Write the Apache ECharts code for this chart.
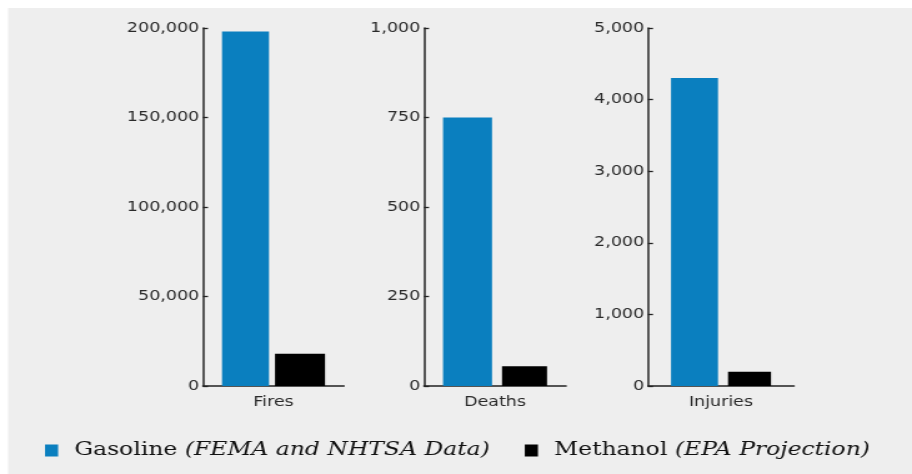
<!DOCTYPE html>
<html>
<head>
<meta charset="utf-8">
<script src="https://cdn.jsdelivr.net/npm/echarts@6/dist/echarts.min.js"></script>
<style>
  html, body { margin: 0; padding: 0; background: #ffffff; overflow: hidden; }
  #wrap { width: 912px; height: 474px; overflow: hidden; position: relative; }
  /* the chart is drawn narrow and widened, giving the stretched lettering */
  #chart { width: 730px; height: 474px; transform: scaleX(1.249315); transform-origin: 0 0; }
</style>
</head>
<body>
<div id="wrap"><div id="chart"></div></div>
<script>
// ---- data ----
const panels = ['Fires', 'Deaths', 'Injuries'];
const gasoline = [198000, 750, 4300];
const methanol = [18000, 55, 200];
const axisMax = [200000, 1000, 5000];
const axisStep = [50000, 250, 1000];
const seriesNames = ['Gasoline', 'Methanol'];
const sourceNotes = ['(FEMA and NHTSA Data)', '(EPA Projection)'];

// ---- layout (page pixels, converted to the narrow drawing space) ----
const SX = 912 / 730;
const px = v => v / SX;
const W = 730;
const gridLeft = [203, 424, 648];
const gridWidth = [141, 142, 146];
const blueW = [47, 49, 47];
const blackW = [50, 45, 43];
const barGapPx = [6, 10, 10];

const BLUE = '#0a7fbf';
const BLACK = '#000000';
const AXIS = '#222222';
const TEXT = '#2a2a2a';

const grids = [], xAxes = [], yAxes = [], series = [];
panels.forEach((p, i) => {
  const left = px(gridLeft[i]);
  const width = px(gridWidth[i]);
  grids.push({ left: left, width: width, top: 28, bottom: 88, containLabel: false });
  xAxes.push({
    type: 'category', gridIndex: i, data: [p],
    axisLine: { lineStyle: { color: AXIS, width: 1.6 } },
    axisTick: { show: false },
    axisLabel: { margin: 9, fontFamily: 'DejaVu Sans', fontSize: 14, color: TEXT }
  });
  yAxes.push({
    type: 'value', gridIndex: i, min: 0, max: axisMax[i], interval: axisStep[i],
    axisLine: { show: true, lineStyle: { color: AXIS, width: 1.5 } },
    axisTick: { show: true, inside: true, length: 4, lineStyle: { color: AXIS, width: 1.3 } },
    splitLine: { show: false },
    axisLabel: {
      margin: 3, fontFamily: 'DejaVu Sans', fontSize: 14, color: TEXT,
      formatter: v => v.toLocaleString('en-US')
    }
  });
  series.push({
    name: seriesNames[0], type: 'bar', xAxisIndex: i, yAxisIndex: i,
    data: [gasoline[i]], barWidth: px(blueW[i]),
    barGap: (barGapPx[i] / blueW[i] * 100).toFixed(1) + '%',
    itemStyle: { color: BLUE }
  });
  series.push({
    name: seriesNames[1], type: 'bar', xAxisIndex: i, yAxisIndex: i,
    data: [methanol[i]], barWidth: px(blackW[i]),
    itemStyle: { color: BLACK }
  });
});

const chart = echarts.init(document.getElementById('chart'), null, { renderer: 'canvas' });
chart.setOption({
  animation: false,
  backgroundColor: 'transparent',
  graphic: [{
    type: 'rect', z: -10, silent: true,
    shape: { x: px(8), y: 8, width: W, height: 474 },
    style: { fill: '#eeeeee' }
  }],
  legend: {
    left: px(45), top: 441, padding: 0,
    icon: 'rect', itemWidth: 10.5, itemHeight: 12, itemGap: 28,
    data: seriesNames,
    formatter: name => {
      const k = seriesNames.indexOf(name);
      return '{n|' + name + '}{i|' + sourceNotes[k] + '}';
    },
    textStyle: {
      rich: {
        n: { fontFamily: 'DejaVu Serif', fontSize: 18.8, color: '#111', padding: [0, 0, 0, 8] },
        i: { fontFamily: 'DejaVu Serif', fontStyle: 'italic', fontSize: 18.8, color: '#111', padding: [0, 0, 0, 6] }
      }
    }
  },
  grid: grids,
  xAxis: xAxes,
  yAxis: yAxes,
  series: series
});
</script>
</body>
</html>
